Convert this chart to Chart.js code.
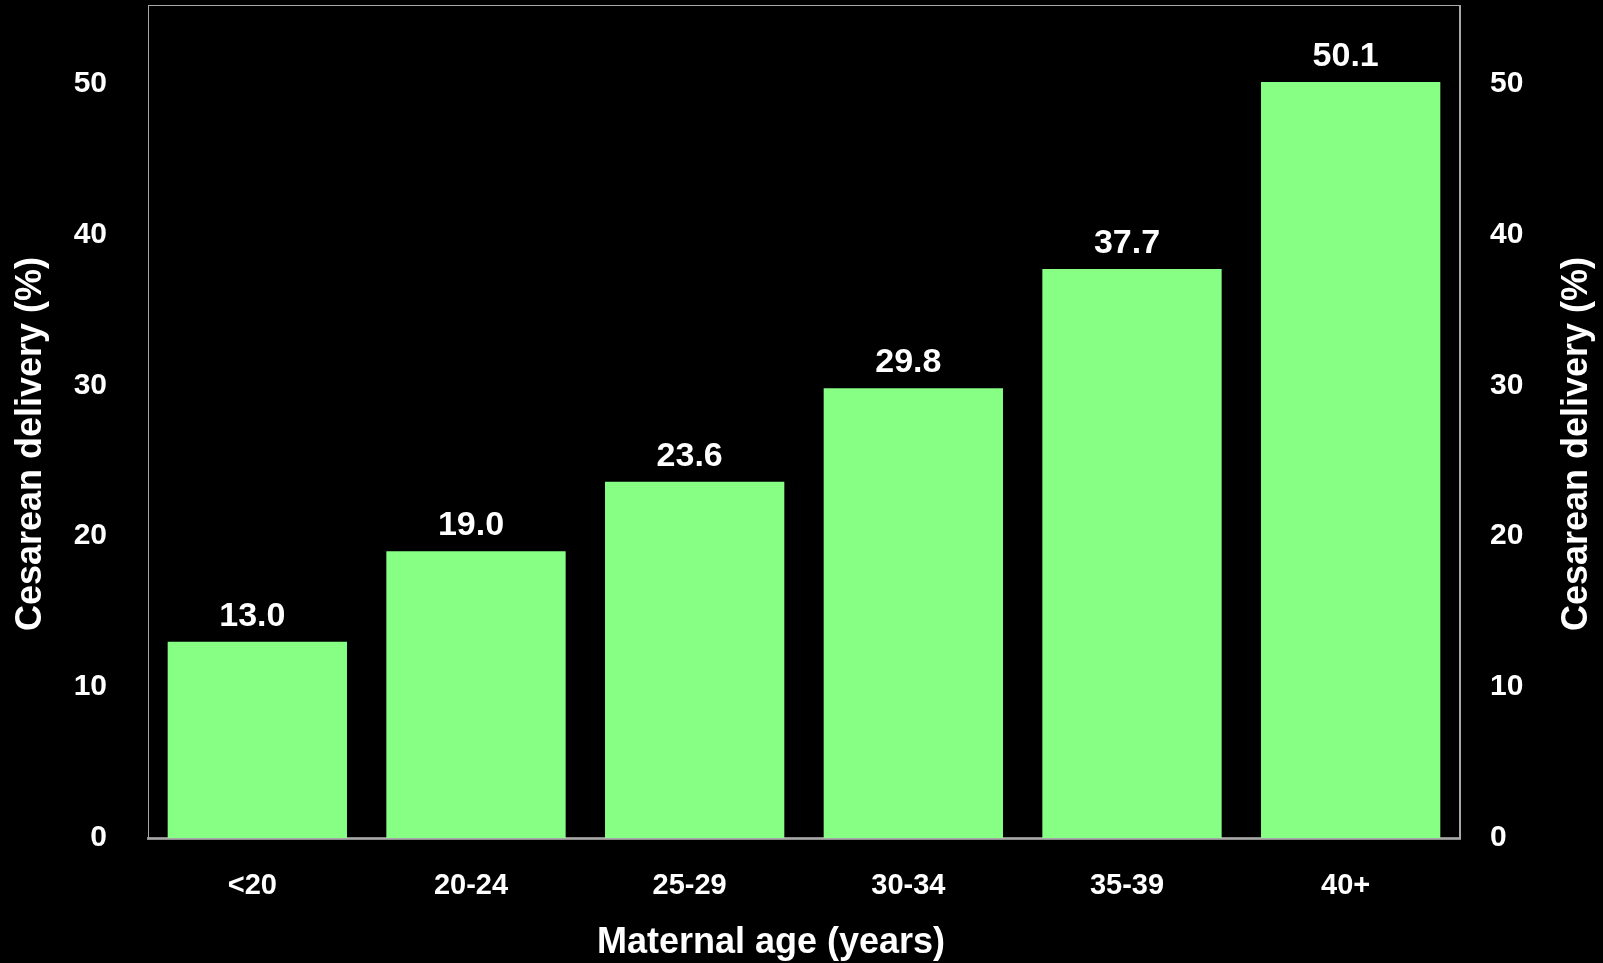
<!DOCTYPE html>
<html>
<head>
<meta charset="utf-8">
<style>
  html, body { margin: 0; padding: 0; background: #000; }
  #wrap { width: 1603px; height: 963px; position: relative; }
</style>
<script src="https://cdn.jsdelivr.net/npm/chart.js@4.4.1/dist/chart.umd.min.js"></script>
</head>
<body>
<div id="wrap"><canvas id="chart"></canvas></div>
<script>
const ageGroups = ['<20', '20-24', '25-29', '30-34', '35-39', '40+'];
const cesareanRates = [13.0, 19.0, 23.6, 29.8, 37.7, 50.1];
const yTicks = [0, 10, 20, 30, 40, 50];
const xTitle = 'Maternal age (years)';
const yTitle = 'Cesarean delivery (%)';

const FONT = '"Liberation Sans", Arial, sans-serif';

// value labels above the bars
const barLabels = {
  id: 'barLabels',
  afterDatasetsDraw(chart) {
    const c = chart.ctx;
    const meta = chart.getDatasetMeta(0);
    c.save();
    c.fillStyle = '#fff';
    c.font = 'bold 34px ' + FONT;
    c.textAlign = 'center';
    c.textBaseline = 'alphabetic';
    meta.data.forEach((bar, i) => {
      c.fillText(cesareanRates[i].toFixed(1), bar.x - 5, bar.y - 16);
    });
    c.restore();
  }
};

// plot frame + axis titles
const frame = {
  id: 'frame',
  beforeDatasetsDraw(chart) {
    const a = chart.chartArea;
    const c = chart.ctx;
    c.save();
    c.strokeStyle = '#a8a8a8';
    c.lineWidth = 1;
    c.strokeRect(a.left + 0.5, a.top + 0.5, a.right - a.left - 1, a.bottom - a.top);
    c.restore();
  },
  afterDraw(chart) {
    const c = chart.ctx;
    c.save();
    c.fillStyle = '#fff';
    c.font = 'bold 36px ' + FONT;
    c.textAlign = 'center';
    c.textBaseline = 'alphabetic';
    c.fillText(xTitle, 771, 953);
    [[41, 444], [1587, 444]].forEach(([x, y]) => {
      c.save();
      c.translate(x, y);
      c.rotate(-Math.PI / 2);
      c.fillText(yTitle, 0, 0);
      c.restore();
    });
    c.restore();
  }
};

const yTickFont = { family: FONT, size: 30, weight: 'bold' };
const xTickFont = { family: FONT, size: 29, weight: 'bold' };
const keepTicks = scale => { scale.ticks = yTicks.map(v => ({ value: v })); };
// no extra room above/below for the tick labels
const fitY = w => s => { s.width = w; s.paddingTop = 0; s.paddingBottom = 0; };

new Chart(document.getElementById('chart'), {
  type: 'bar',
  data: {
    labels: ageGroups,
    datasets: [{
      data: cesareanRates,
      backgroundColor: '#86ff84',
      borderWidth: 0,
      categoryPercentage: 1,
      barPercentage: 0.82,
      yAxisID: 'y'
    }]
  },
  options: {
    responsive: true,
    maintainAspectRatio: false,
    animation: false,
    devicePixelRatio: 1,
    layout: { padding: { top: 5, left: 0, right: 0, bottom: 0 } },
    plugins: { legend: { display: false }, tooltip: { enabled: false } },
    scales: {
      x: {
        position: 'bottom',
        z: 1,
        grid: { display: false, drawTicks: false },
        border: { display: true, color: '#8c8c8c', width: 3 },
        ticks: { color: '#fff', font: xTickFont, padding: 31, maxRotation: 0, labelOffset: -5 },
        afterFit: s => { s.height = 125; s.paddingLeft = 0; s.paddingRight = 0; }
      },
      y: {
        position: 'left',
        min: 0,
        max: 55.2,
        grid: { display: false, drawTicks: false },
        border: { display: true, color: '#a8a8a8', width: 1 },
        ticks: { color: '#fff', font: yTickFont, padding: 41, stepSize: 10 },
        afterBuildTicks: keepTicks,
        afterFit: fitY(148)
      },
      y2: {
        position: 'right',
        min: 0,
        max: 55.2,
        grid: { display: false, drawTicks: false },
        border: { display: true, color: '#a8a8a8', width: 1 },
        ticks: { color: '#fff', font: yTickFont, padding: 30, stepSize: 10 },
        afterBuildTicks: keepTicks,
        afterFit: fitY(143)
      }
    }
  },
  plugins: [frame, barLabels]
});
</script>
</body>
</html>
